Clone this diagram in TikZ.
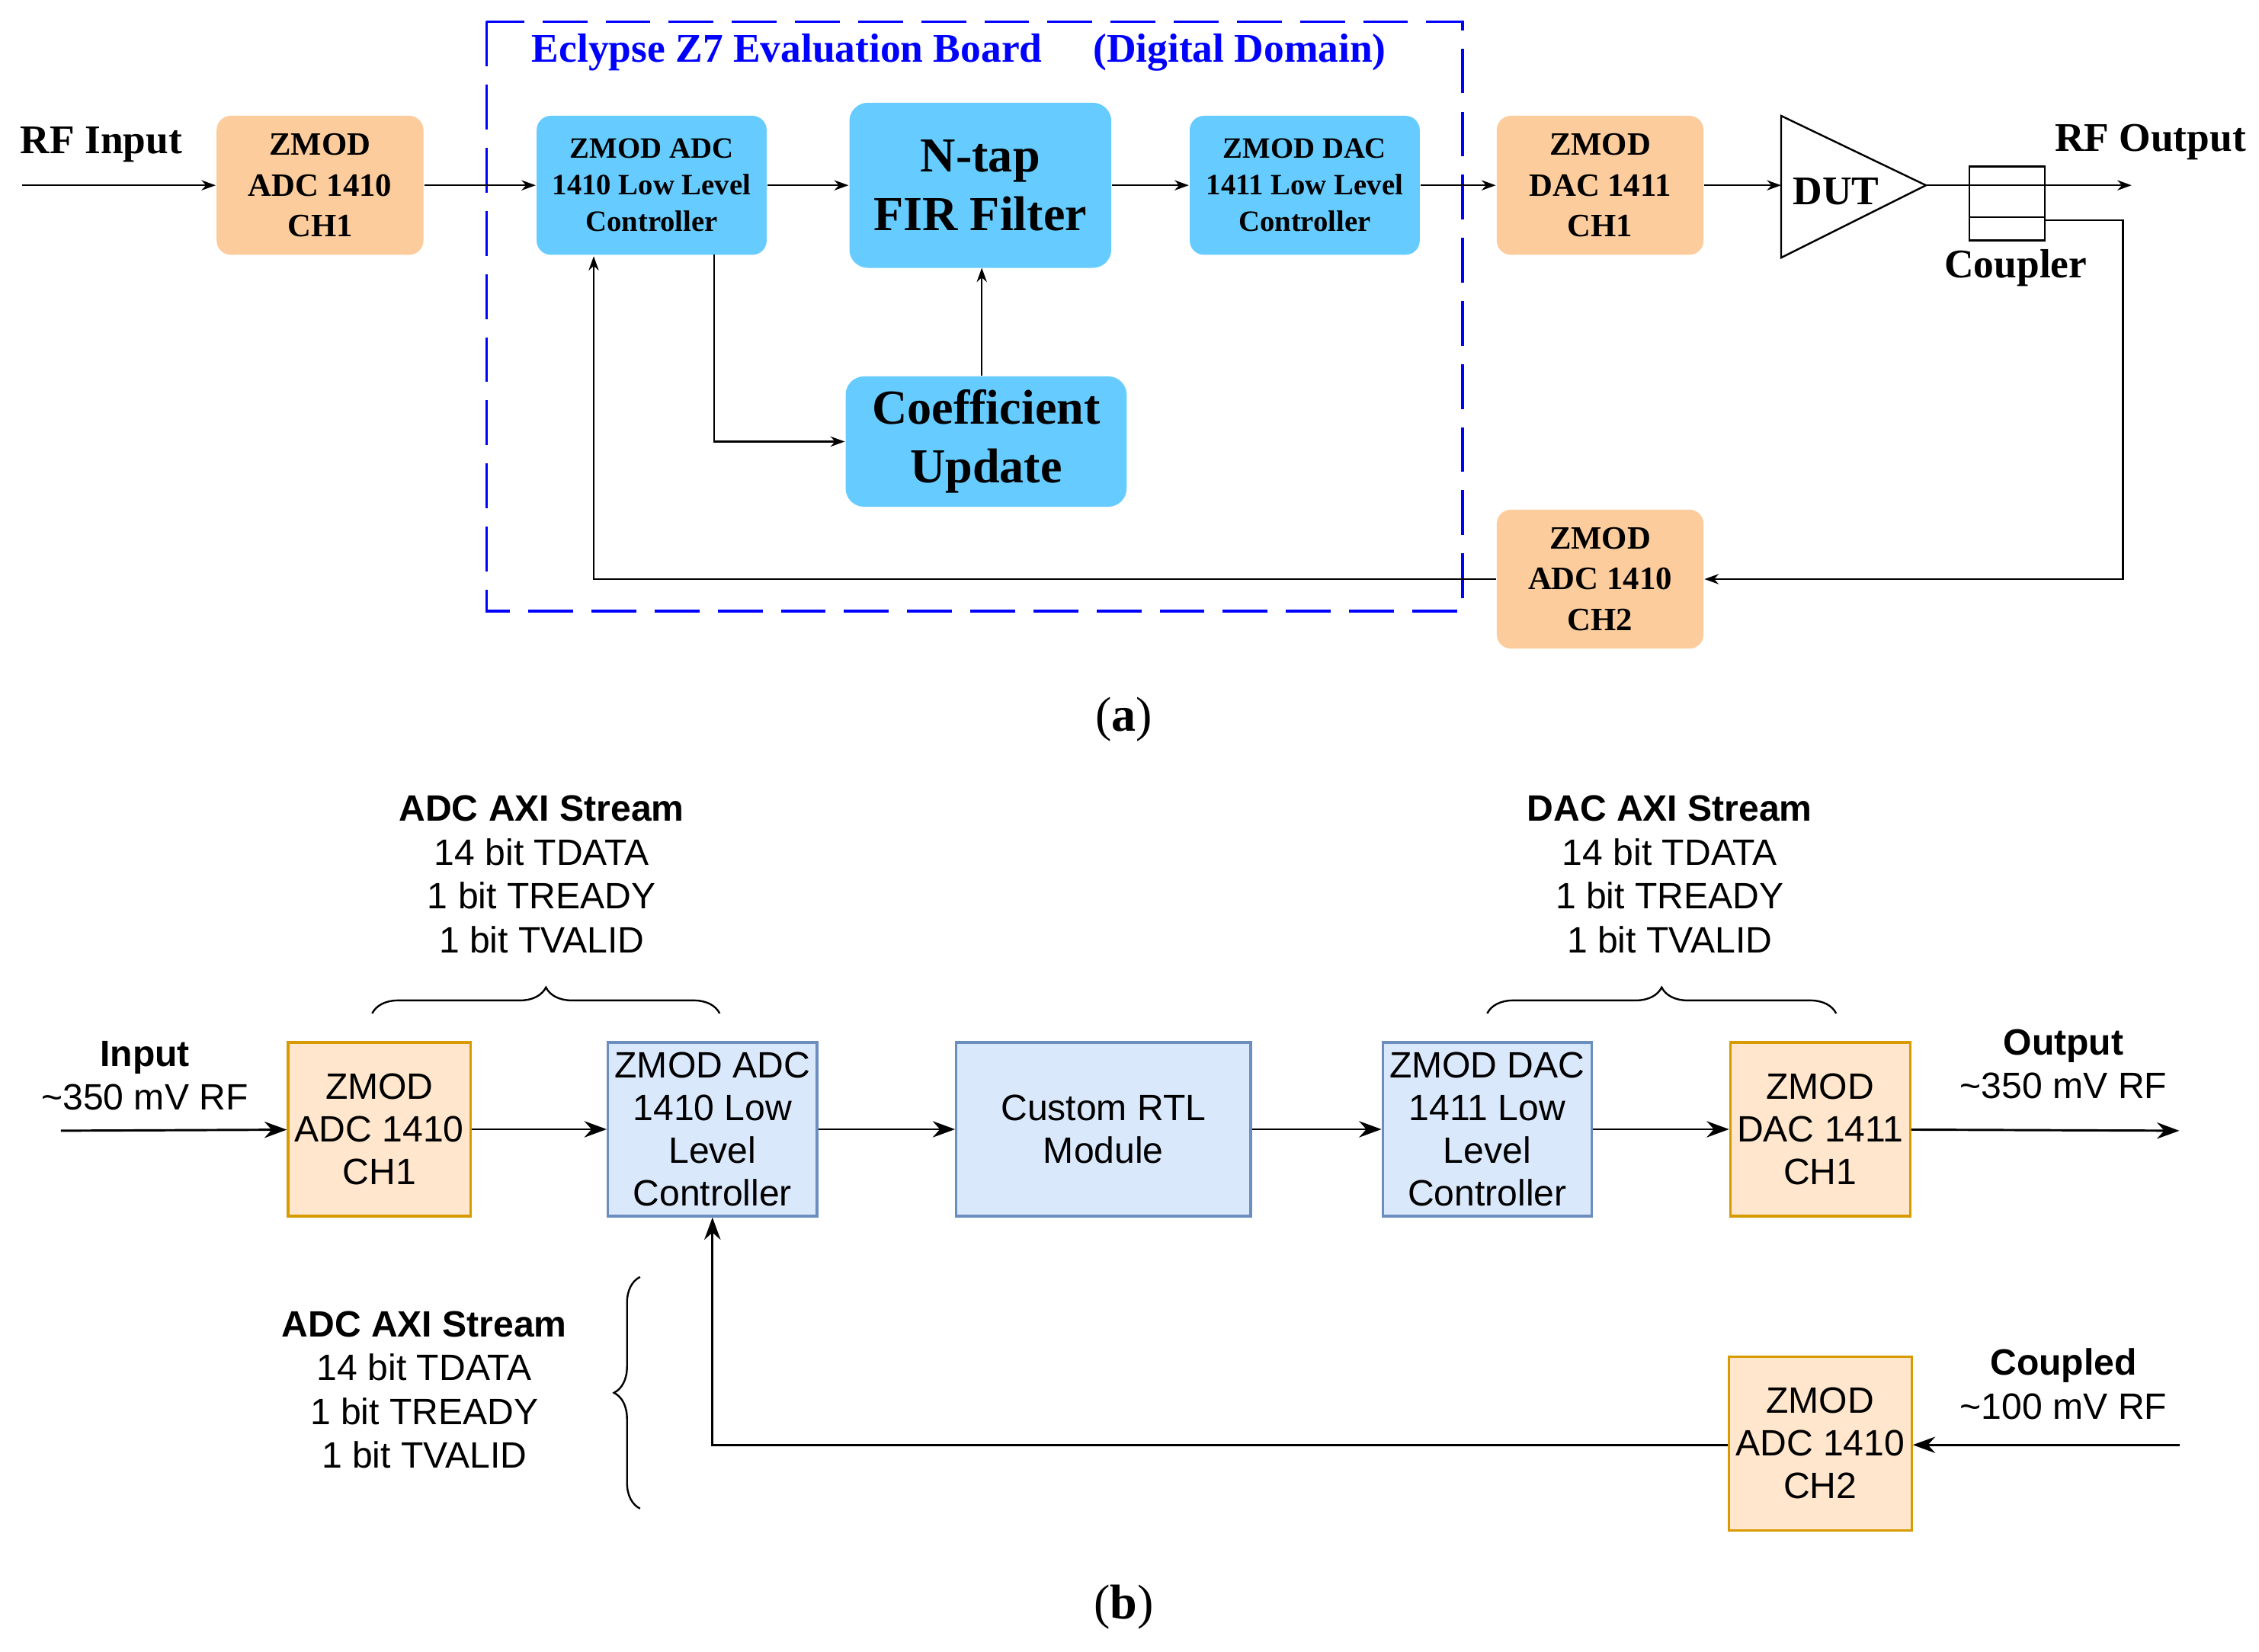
\documentclass[tikz,border=0pt]{standalone}
\usepackage{fontspec}
\setmainfont{Liberation Serif}
\newfontfamily\sansf{Liberation Sans}
\usetikzlibrary{arrows.meta,positioning,decorations.pathreplacing}
\definecolor{orgA}{RGB}{252,204,156}
\definecolor{bluA}{RGB}{102,204,255}
\definecolor{orgB}{RGB}{255,230,204}
\definecolor{orgBd}{RGB}{215,155,0}
\definecolor{bluB}{RGB}{218,232,252}
\definecolor{bluBd}{RGB}{108,142,191}
\begin{document}
\begin{tikzpicture}[x=0.025cm,y=-0.025cm,line width=0.9pt]
% Styles
\tikzstyle{orgbox}=[draw=none,fill=orgA,rounded corners=7pt,align=center,font=\bfseries\fontsize{16}{20}\selectfont,minimum width=3.57cm,minimum height=2.4cm]
\tikzstyle{llcbox}=[draw=none,fill=bluA,rounded corners=7pt,align=center,font=\bfseries\fontsize{14.5}{18}\selectfont,minimum width=3.97cm,minimum height=2.4cm]
\tikzstyle{bigbox}=[draw=none,fill=bluA,rounded corners=9pt,align=center,font=\bfseries\fontsize{24}{29}\selectfont]
\tikzstyle{lbl}=[font=\bfseries\fontsize{20}{24}\selectfont]
\tikzstyle{arr}=[-{Stealth[length=7pt,width=5pt]}]
\tikzstyle{arrb}=[-{Stealth[length=11pt,width=8pt]},line width=1.1pt]
\tikzstyle{obox}=[draw=orgBd,fill=orgB,align=center,font=\sansf\fontsize{18}{21}\selectfont,minimum width=3.02cm,minimum height=3cm,line width=1.2pt]
\tikzstyle{bbox}=[draw=bluBd,fill=bluB,align=center,font=\sansf\fontsize{18}{21}\selectfont,minimum height=3cm,line width=1.2pt]
\tikzstyle{stxt}=[align=center,font=\sansf\fontsize{18}{21.5}\selectfont]

\fill[white] (0,0) rectangle (1560,1141);

%%%% (a)
% frame
\draw[blue,dash pattern=on 22pt off 9pt,line width=1.3pt] (336,15) rectangle (1010,422);
\node[text=blue,font=\bfseries\fontsize{20}{24}\selectfont,anchor=west] (title) at (362,36) {Eclypse Z7 Evaluation Board\quad\ (Digital Domain)};

% draw the nodes
\node[orgbox] (adcA) at (221,128) {ZMOD\\ADC 1410\\CH1};
\node[llcbox] (allc) at (450,128) {ZMOD ADC\\1410 Low Level\\Controller};
\node[bigbox,minimum width=4.52cm,minimum height=2.85cm] (fir) at (677,128) {N-tap\\FIR Filter};
\node[llcbox] (dllc) at (901,128) {ZMOD DAC\\1411 Low Level\\Controller};
\node[bigbox,minimum width=4.85cm,minimum height=2.25cm] (coef) at (681,305) {Coefficient\\Update};
\node[orgbox] (dacA) at (1105,128) {ZMOD\\DAC 1411\\CH1};
\node[orgbox] (adcB) at (1105,400) {ZMOD\\ADC 1410\\CH2};
\node[lbl] (rfin) at (70,100) {RF Input};
\node[lbl] (rfout) at (1485,98) {RF Output};
\coordinate (inA) at (15,128);
\coordinate (outA) at (1472,128);

% DUT and coupler
\draw (1230,80) coordinate (d1) -- (1330,128) coordinate (dutout) -- (1230,178) -- cycle;
\node[lbl] (dut) at (1268,132) {DUT};
\draw (1360,115) rectangle (1412,150);
\draw (1360,150) rectangle (1412,166);
\coordinate (cpl) at (1412,152);
\node[lbl] (cpltxt) at (1392,185) {Coupler};

% paths
\draw[arr] (inA) -- (adcA);
\draw[arr] (adcA) -- (allc);
\draw[arr] (allc) -- (fir);
\draw[arr] (fir) -- (dllc);
\draw[arr] (dllc) -- (dacA);
\draw[arr] (dacA) -- (1230,128);
\draw[arr] (dutout) -- (outA);
\draw[arr] (cpl) -- (1466,152) |- (adcB);
\draw[arr] (adcB.west) -| (410,177);
\draw[arr] (493,176) |- (coef);
\draw[arr] (coef.north -| 678,0) -- (678,185);

\node[font=\fontsize{24}{28}\selectfont] (capA) at (776,497) {(\textbf{a})};

%%%% (b)
\node[obox] (adc1) at (262,780) {ZMOD\\ADC 1410\\CH1};
\node[bbox,minimum width=3.57cm] (allcb) at (492,780) {ZMOD ADC\\1410 Low\\Level\\Controller};
\node[bbox,minimum width=5.08cm] (rtl) at (762,780) {Custom RTL\\Module};
\node[bbox,minimum width=3.6cm] (dllcb) at (1027,780) {ZMOD DAC\\1411 Low\\Level\\Controller};
\node[obox] (dac1) at (1257,780) {ZMOD\\DAC 1411\\CH1};
\node[obox] (adc2) at (1257,997) {ZMOD\\ADC 1410\\CH2};
\coordinate (inB) at (42,781);
\coordinate (outB) at (1505,781);
\coordinate (cplB) at (1505,998);

\node[stxt] (inlbl) at (100,743) {\textbf{Input}\\\textasciitilde350 mV RF};
\node[stxt] (outlbl) at (1425,735) {\textbf{Output}\\\textasciitilde350 mV RF};
\node[stxt] (cpllbl) at (1425,956) {\textbf{Coupled}\\\textasciitilde100 mV RF};

\draw[arrb] (inB) -- (adc1);
\draw[arrb] (adc1) -- (allcb);
\draw[arrb] (allcb) -- (rtl);
\draw[arrb] (rtl) -- (dllcb);
\draw[arrb] (dllcb) -- (dac1);
\draw[arrb] (dac1) -- (outB);
\draw[arrb] (cplB) -- (adc2.east |- cplB);
\draw[arrb] (adc2.west |- cplB) -| (allcb.south);

% braces
\draw[decorate,decoration={brace,amplitude=0.45cm}] (257,700) -- (497,700);
\draw[decorate,decoration={brace,amplitude=0.45cm}] (1027,700) -- (1268,700);
\draw[decorate,decoration={brace,amplitude=0.45cm}] (442,1042) -- (442,882);
\node[stxt] (axiA) at (374,604) {\textbf{ADC AXI Stream}\\14 bit TDATA\\1 bit TREADY\\1 bit TVALID};
\node[stxt] (axiD) at (1153,604) {\textbf{DAC AXI Stream}\\14 bit TDATA\\1 bit TREADY\\1 bit TVALID};
\node[stxt] (axiB) at (293,960) {\textbf{ADC AXI Stream}\\14 bit TDATA\\1 bit TREADY\\1 bit TVALID};

\node[font=\fontsize{24}{28}\selectfont] (capB) at (776,1110) {(\textbf{b})};
\end{tikzpicture}
\end{document}
